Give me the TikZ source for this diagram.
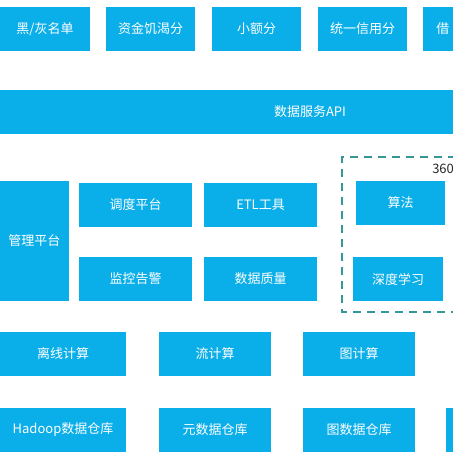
\documentclass[tikz,border=0pt]{standalone}
\usepackage{fontspec}
\setmainfont{Noto Sans CJK SC}
\usepackage{xcolor}
\usepackage{tikz}
\definecolor{boxblue}{RGB}{10,174,232}
\definecolor{dashteal}{RGB}{52,150,150}

\begin{document}
\begin{tikzpicture}[x=0.75pt,y=0.75pt,yscale=-1,xscale=1,
        blk/.style={fill=boxblue, text=white, inner sep=0pt, minimum height=33pt, font=\fontsize{9.75}{12}\selectfont},
        frame/.style={draw=dashteal, line width=1.3pt, dash pattern=on 6pt off 4.5pt}
    ]
        \useasboundingbox (0,0) rectangle (453,457);
        \clip (0,0) rectangle (453,457);

        \node[blk, minimum width=67.5pt]  (heimd) at (45,29) {黑/灰名单};
        \node[blk, minimum width=66.75pt] (zijin) at (150.5,29) {资金饥渴分};
        \node[blk, minimum width=66.75pt] (xiaoe) at (256.5,29) {小额分};
        \node[blk, minimum width=66.75pt] (xinyong) at (362.5,29) {统一信用分};
        \node[blk, minimum width=66.75pt] (jie) at (467.5,29) {};
        \node[anchor=west, inner sep=0pt, text=white, font=\fontsize{9.75}{12}\selectfont] (jietxt) at (436,29) {借};

        \node[blk, minimum width=465pt] (api) at (310,112) {数据服务API};

        \draw[frame] (470,157) coordinate (frtr) -- (342,157) coordinate (frtl) -- (342,312) coordinate (frbl) -- (470,312) coordinate (frbr);
        \node[anchor=north west, inner sep=0pt, text=black!85, font=\fontsize{9.75}{11}\selectfont] (lbl) at (432,164) {360};

        \node[blk, minimum width=51.75pt, minimum height=90pt] (guanli) at (34.5,241) {管理平台};
        \node[blk, minimum width=84.75pt] (diaodu) at (135.5,205) {调度平台};
        \node[blk, minimum width=84.75pt] (jiankong) at (135.5,279) {监控告警};
        \node[blk, minimum width=84.75pt] (etl) at (260.5,205) {ETL工具};
        \node[blk, minimum width=84.75pt] (zhiliang) at (260.5,279) {数据质量};
        \node[blk, minimum width=66.75pt] (suanfa) at (400.5,203) {算法};
        \node[blk, minimum width=67.5pt]  (shendu) at (398,279) {深度学习};

        \node[blk, minimum width=94.5pt] (lixian) at (63,354) {离线计算};
        \node[blk, minimum width=84pt]   (liu) at (215,354) {流计算};
        \node[blk, minimum width=84pt]   (tu) at (359,354) {图计算};

        \node[blk, minimum width=94.5pt] (hadoop) at (63,429.5) {Hadoop数据仓库};
        \node[blk, minimum width=84pt]   (yuan) at (215,429.5) {元数据仓库};
        \node[blk, minimum width=84pt]   (tushu) at (359,429.5) {图数据仓库};
        \node[blk, minimum width=84pt]   (more) at (502,429.5) {};
\end{tikzpicture}
\end{document}
